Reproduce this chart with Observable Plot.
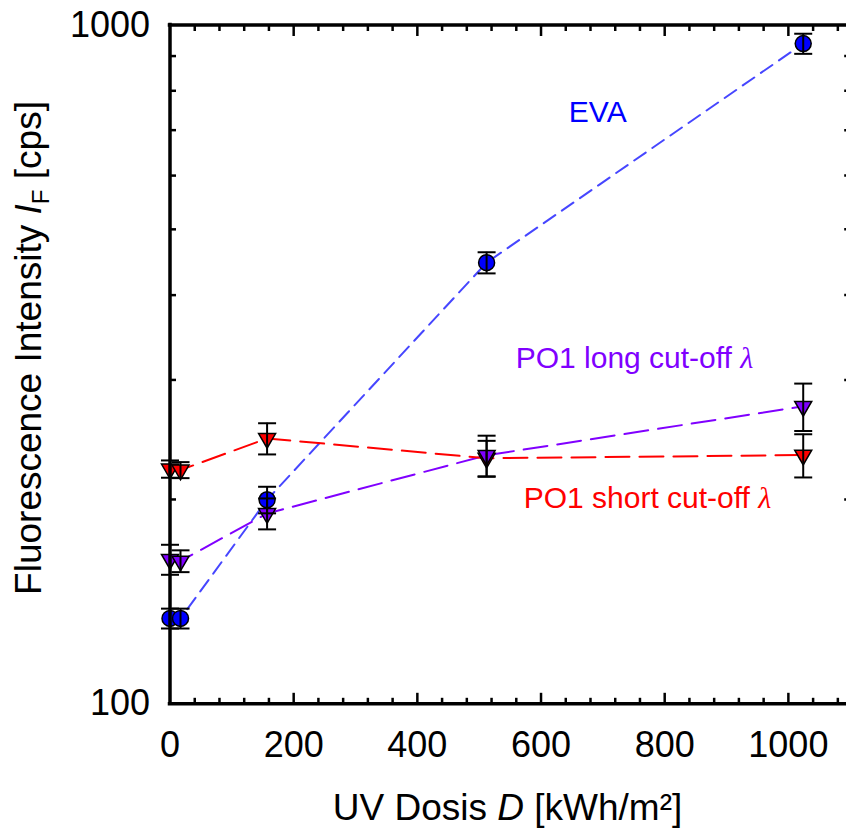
<!DOCTYPE html>
<html>
<head>
<meta charset="utf-8">
<script src="https://cdn.jsdelivr.net/npm/d3@7"></script>
<script src="https://cdn.jsdelivr.net/npm/@observablehq/plot@0.6"></script>
<style>
  body { margin: 0; background: #fff; }
  svg { display: block; }
</style>
</head>
<body>
<div id="chart"></div>
<script>
// ---- data ----
const doses = [0, 17, 157, 512, 1024];               // UV dose D [kWh/m²]
const evaValues = [133.6, 133.6, 199.8, 446.6, 938.8];
const evaErrors = [4.5, 4.5, 9, 16, 32];
const longValues = [163.2, 162.3, 190.7, 232.3, 274.3];
const longErrors = [8.3, 6, 10, 16, 22];
const shortValues = [221.8, 221.0, 246.0, 230.0, 232.5];
const shortErrors = [6.5, 6, 13, 14, 17];

const seriesNames = ["EVA", "PO1 long cut-off λ", "PO1 short cut-off λ"];
const xTickLabels = [0, 200, 400, 600, 800, 1000];
const yTickLabels = [100, 1000];
const yMinorTicks = [200, 300, 400, 500, 600, 700, 800, 900];
const xAxisMax = 1100;

// annotation anchor points (data units)
const labelDose = [645, 559, 572];
const labelIntensity = [743, 323, 201];

// ---- styles ----
const markerColors = ["#0000ff", "#8000ff", "#ff0000"];
const lineColors = ["#4646ff", "#8000ff", "#ff0000"];
const dashes = ["14,8", "24,10", "24,10"];

const valueSets = [evaValues, longValues, shortValues];
const errorSets = [evaErrors, longErrors, shortErrors];
const rows = seriesNames.map((name, s) => doses.map((d, i) => ({
  series: name, s, dose: d, value: valueSets[s][i],
  lo: valueSets[s][i] - errorSets[s][i], hi: valueSets[s][i] + errorSets[s][i]
})));
const allRows = rows.flat();

const labels = seriesNames.map((name, s) => ({
  text: name, x: labelDose[s], y: labelIntensity[s], color: markerColors[s]
}));

const xMajor = xTickLabels.filter(d => d > 0);
const xMinor = d3.range(40, xAxisMax, 40).filter(d => d % 200 !== 0);

// custom symbols
const seg = (dx, dy) => ({ draw(c) { c.moveTo(0, 0); c.lineTo(dx, dy); } });
const capSym = { draw(c) { c.moveTo(-9, 0); c.lineTo(9, 0); } };
const downTri = { draw(c) {
  const s = 17, h = s * Math.sqrt(3) / 2;
  c.moveTo(-s / 2, -h / 3); c.lineTo(s / 2, -h / 3); c.lineTo(0, 2 * h / 3); c.closePath();
} };

const tickStyle = { stroke: "black", fill: "none", strokeWidth: 2.5 };
const minorLen = 6, majorLen = 11;

const plot = Plot.plot({
  width: 846,
  height: 832,
  marginLeft: 169.5,
  marginRight: 0,
  marginTop: 24.5,
  marginBottom: 128.7,
  style: { fontFamily: "'Liberation Sans', Arial, sans-serif", background: "white", color: "black" },
  x: { domain: [0, 1094] },
  y: { type: "log", domain: [100, 1000] },
  marks: [
    // dashed connecting lines
    ...rows.map((r, s) => Plot.line(r, {
      x: "dose", y: "value", stroke: lineColors[s], strokeWidth: 2, strokeDasharray: dashes[s]
    })),
    // markers
    Plot.dot(rows[0], { x: "dose", y: "value", r: 8, fill: markerColors[0], stroke: "black", strokeWidth: 1.5 }),
    Plot.dot(rows[2], { x: "dose", y: "value", symbol: downTri, fill: markerColors[2], stroke: "black", strokeWidth: 1.5 }),
    Plot.dot(rows[1], { x: "dose", y: "value", symbol: downTri, fill: markerColors[1], stroke: "black", strokeWidth: 1.5 }),
    // error bars
    Plot.ruleX(allRows, { x: "dose", y1: "lo", y2: "hi", stroke: "black", strokeWidth: 2 }),
    Plot.dot(allRows, { x: "dose", y: "lo", symbol: capSym, stroke: "black", fill: "none", strokeWidth: 2 }),
    Plot.dot(allRows, { x: "dose", y: "hi", symbol: capSym, stroke: "black", fill: "none", strokeWidth: 2 }),
    // frame
    Plot.ruleX([0], { stroke: "black", strokeWidth: 3.5, strokeLinecap: "square" }),
    Plot.ruleY(yTickLabels, { stroke: "black", strokeWidth: 3.5, strokeLinecap: "square" }),
    // inward ticks: bottom & top
    Plot.dot(xMinor, { x: d => d, frameAnchor: "bottom", symbol: seg(0, -minorLen), ...tickStyle }),
    Plot.dot(xMajor, { x: d => d, frameAnchor: "bottom", symbol: seg(0, -majorLen), ...tickStyle }),
    Plot.dot(xMinor, { x: d => d, frameAnchor: "top", symbol: seg(0, minorLen), ...tickStyle }),
    Plot.dot(xMajor, { x: d => d, frameAnchor: "top", symbol: seg(0, majorLen), ...tickStyle }),
    // inward ticks: left & right
    Plot.dot(yMinorTicks, { y: d => d, frameAnchor: "left", symbol: seg(minorLen, 0), ...tickStyle }),
    Plot.dot(yMinorTicks, { y: d => d, x: () => xAxisMax, symbol: seg(-minorLen, 0), ...tickStyle }),
    // tick labels
    Plot.axisX({ anchor: "bottom", ticks: xTickLabels, tickSize: 0, tickPadding: 28, fontSize: 36, label: null, tickFormat: d => String(d) }),
    Plot.axisY({ anchor: "left", ticks: yTickLabels, tickSize: 0, tickPadding: 20, fontSize: 36, label: null, tickFormat: d => String(d) }),
    // series annotations
    Plot.text(labels, { x: "x", y: "y", text: "text", fill: "color", textAnchor: "start", fontSize: 30 })
  ]
});

const svg = d3.select(plot);

// italic lambda in annotations
svg.selectAll("text").each(function () {
  const t = this.textContent;
  if (t.endsWith("λ") && this.childElementCount === 0) {
    const el = d3.select(this);
    el.text(t.slice(0, -1));
    el.append("tspan").attr("font-family", "'Liberation Serif', 'DejaVu Serif', serif")
      .attr("font-style", "italic").text("λ");
  }
});

// axis titles
const yl = svg.append("text")
  .attr("transform", "translate(41,348) rotate(-90)")
  .attr("text-anchor", "middle")
  .attr("font-size", 37)
  .attr("fill", "black");
yl.append("tspan").text("Fluorescence Intensity ");
yl.append("tspan").attr("font-style", "italic").text("I");
yl.append("tspan").attr("font-size", 24).attr("dy", 8).text("F");
yl.append("tspan").attr("dy", -8).text(" [cps]");

const xl = svg.append("text")
  .attr("x", 507.5).attr("y", 820)
  .attr("text-anchor", "middle")
  .attr("font-size", 37)
  .attr("fill", "black");
xl.append("tspan").text("UV Dosis ");
xl.append("tspan").attr("font-style", "italic").text("D");
xl.append("tspan").text(" [kWh/m²]");

document.getElementById("chart").appendChild(plot);
</script>
</body>
</html>
